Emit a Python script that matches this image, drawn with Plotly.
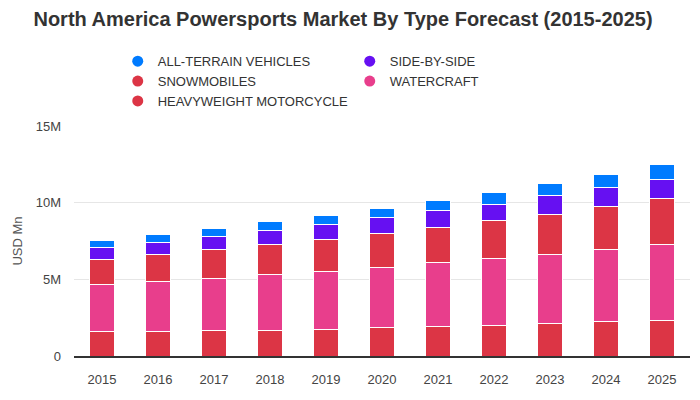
import plotly.graph_objects as go

years = ["2015", "2016", "2017", "2018", "2019", "2020", "2021", "2022", "2023", "2024", "2025"]
# values in USD million (displayed as M)
heavyweight = [1.62, 1.62, 1.69, 1.69, 1.75, 1.88, 1.95, 2.01, 2.14, 2.27, 2.34]
watercraft = [3.05, 3.25, 3.37, 3.63, 3.77, 3.90, 4.16, 4.33, 4.46, 4.66, 4.91]
snowmobiles = [1.62, 1.75, 1.89, 1.95, 2.08, 2.21, 2.27, 2.47, 2.66, 2.79, 3.01]
side_by_side = [0.78, 0.78, 0.84, 0.91, 0.97, 1.04, 1.10, 1.10, 1.19, 1.25, 1.28]
atv = [0.48, 0.54, 0.54, 0.61, 0.61, 0.60, 0.67, 0.76, 0.81, 0.87, 0.95]

c_blue = "#007bff"
c_purple = "#6610f2"
c_red = "#dc3545"
c_pink = "#e83e8c"

stack = [
    ("HEAVYWEIGHT MOTORCYCLE", heavyweight, c_red),
    ("WATERCRAFT", watercraft, c_pink),
    ("SNOWMOBILES", snowmobiles, c_red),
    ("SIDE-BY-SIDE", side_by_side, c_purple),
    ("ALL-TERRAIN VEHICLES", atv, c_blue),
]
legend_order = [
    ("ALL-TERRAIN VEHICLES", c_blue),
    ("SIDE-BY-SIDE", c_purple),
    ("SNOWMOBILES", c_red),
    ("WATERCRAFT", c_pink),
    ("HEAVYWEIGHT MOTORCYCLE", c_red),
]

fig = go.Figure()
for name, vals, col in stack:
    fig.add_trace(go.Bar(
        x=years, y=[v * 1e6 for v in vals], name=name,
        marker=dict(color=col, line=dict(color="white", width=1)),
        showlegend=False,
    ))
for name, col in legend_order:
    fig.add_trace(go.Scatter(
        x=[None], y=[None], mode="markers", name=name,
        marker=dict(color=col, size=11, symbol="circle"),
    ))

fig.update_layout(
    width=700, height=400,
    barmode="stack", bargap=0.54, barcornerradius=3,
    paper_bgcolor="white", plot_bgcolor="white",
    font=dict(family="Liberation Sans, Arial, sans-serif", color="#333", size=13),
    margin=dict(l=74, r=10, t=126, b=44),
    title=dict(text="<b>North America Powersports Market By Type Forecast (2015-2025)</b>",
               x=0.49, xanchor="center", y=0.952, yanchor="middle",
               font=dict(size=20, color="#333")),
    legend=dict(orientation="h", traceorder="normal", x=0.071, xanchor="left",
                y=1.347, yanchor="top",
                entrywidth=187, font=dict(size=13, color="#333"),
                itemclick=False, tracegroupgap=0),
    yaxis=dict(range=[0, 15e6], dtick=5e6, tickformat="~s", showgrid=True,
               gridcolor="#e6e6e6", zeroline=False, ticklabelstandoff=12,
               title=dict(text="USD Mn", font=dict(size=13, color="#555"), standoff=10),
               tickfont=dict(size=13, color="#444"), ticks="", ticklen=0),
    xaxis=dict(showline=True, linecolor="#333", linewidth=2, ticks="",
               ticklabelstandoff=10,
               tickfont=dict(size=13, color="#444")),
)

fig.write_html("out.html", config={"displayModeBar": False},
               post_script="document.body.style.margin='0px';")
